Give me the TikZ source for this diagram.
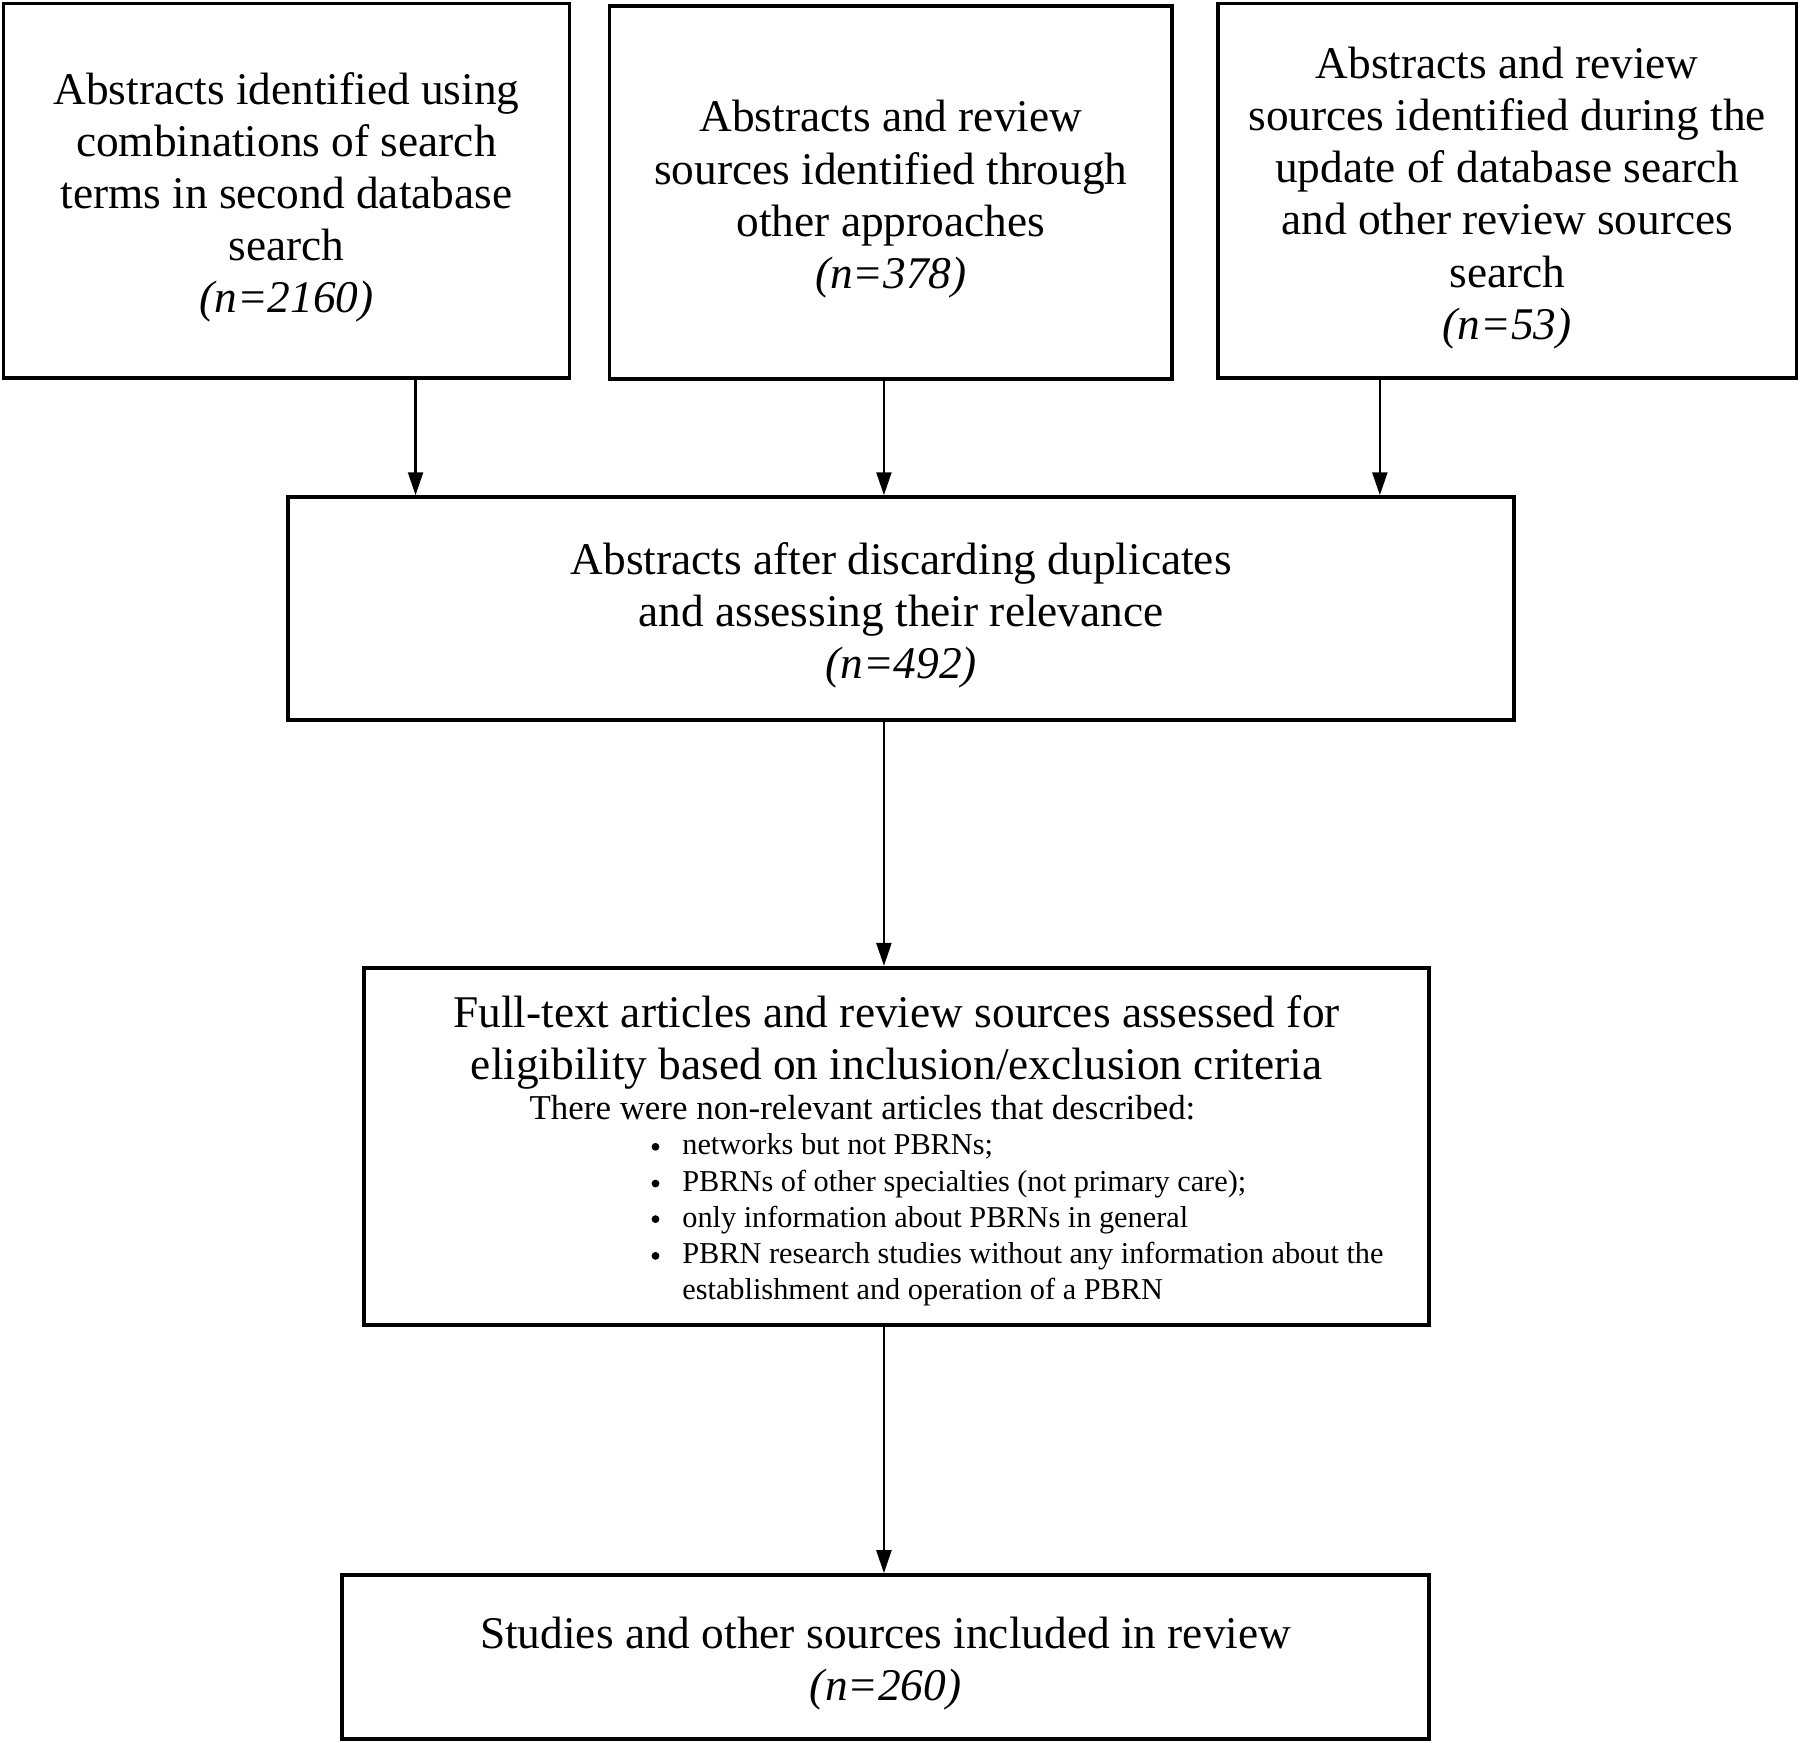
\documentclass[tikz,border=0pt]{standalone}
\usepackage{fontspec}
\setmainfont{Liberation Serif}
\usetikzlibrary{arrows.meta}
\begin{document}
\begin{tikzpicture}[x=0.5pt,y=-0.5pt,
  box/.style={draw,line width=1.6pt,inner sep=0pt},
  txt/.style={inner sep=0pt,align=center,font=\fontsize{19.75}{22.7}\selectfont},
  arr/.style={line width=1.1pt,-{Triangle[length=10pt,width=6.5pt]}},
  lead/.style={inner sep=0pt,anchor=base west,font=\fontsize{15.2}{17}\selectfont},
  small/.style={inner sep=0pt,anchor=base west,font=\fontsize{13.2}{15.7}\selectfont},
  dot/.style={circle,fill,inner sep=0pt,minimum size=3.4pt}]
\useasboundingbox (0,0) rectangle (1568,1518);
% boxes
\node[box,minimum width=246.5pt,minimum height=163pt] (b1) at (249.5,166) {};
\node[box,minimum width=245pt,minimum height=162.5pt] (b2) at (776,167.5) {};
\node[box,minimum width=252pt,minimum height=163pt] (b3) at (1313,166) {};
\node[box,minimum width=534pt,minimum height=97pt] (b4) at (785,530) {};
\node[box,minimum width=464pt,minimum height=155.5pt] (b5) at (781,998.5) {};
\node[box,minimum width=473.5pt,minimum height=71.5pt] (b6) at (771.5,1443.5) {};
% texts
\node[txt] (t1) at (249.5,172)
  {Abstracts identified using\\combinations of search\\terms in second database\\search\\\textit{(n=2160)}};
\node[txt] (t2) at (776,173.5)
  {Abstracts and review\\sources identified through\\other approaches\\\textit{(n=378)}};
\node[txt] (t3) at (1313,172.5)
  {Abstracts and review\\sources identified during the\\update of database search\\and other review sources\\search\\\textit{(n=53)}};
\node[txt] (t4) at (785,536)
  {Abstracts after discarding duplicates\\and assessing their relevance\\\textit{(n=492)}};
\node[txt] (t6) at (771.5,1449.5)
  {Studies and other sources included in review\\\textit{(n=260)}};
% box 5 contents
\node[txt,font=\fontsize{19.75}{23}\selectfont] (t5) at (781,908)
  {Full-text articles and review sources assessed for\\eligibility based on inclusion/exclusion criteria};
\node[lead] (s0) at (461,975) {There were non-relevant articles that described:};
\node[dot] (k1) at (571,999) {};
\node[small] (s1) at (594,1006) {networks but not PBRNs;};
\node[dot] (k2) at (571,1031) {};
\node[small] (s2) at (594,1038) {PBRNs of other specialties (not primary care);};
\node[dot] (k3) at (571,1062) {};
\node[small] (s3) at (594,1069) {only information about PBRNs in general};
\node[dot] (k4) at (571,1094) {};
\node[small] (s4) at (594,1101) {PBRN research studies without any information about the};
\node[small] (s5) at (594,1132) {establishment and operation of a PBRN};
% connectors
\coordinate (x1) at (362,0);
\coordinate (x2) at (770,0);
\coordinate (x3) at (1202,0);
\draw[arr] (b1.south -| x1) -- (b4.north -| x1);
\draw[arr] (b2.south -| x2) -- (b4.north -| x2);
\draw[arr] (b3.south -| x3) -- (b4.north -| x3);
\draw[arr] (b4.south -| x2) -- (b5.north -| x2);
\draw[arr] (b5.south -| x2) -- (b6.north -| x2);
\end{tikzpicture}
\end{document}
